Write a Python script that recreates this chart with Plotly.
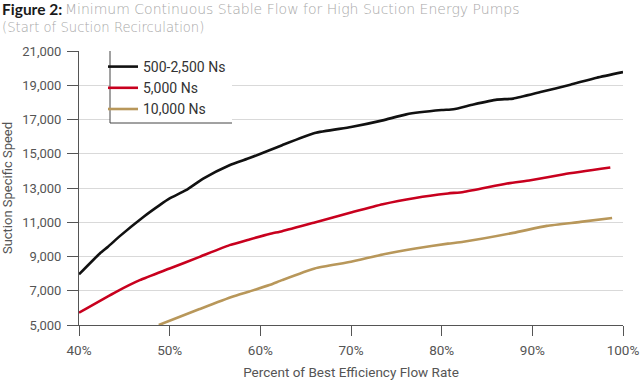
import plotly.graph_objects as go

# ---- data ----
series_names = ["500-2,500 Ns", "5,000 Ns", "10,000 Ns"]

black_x = [40, 42.3, 43.2, 44.5, 47.1, 48.9, 50, 51.8, 53.7, 56.6, 58.8, 61, 62.4, 66,
           70, 73.5, 76.1, 80, 81.3, 83.5, 86.1, 87.9, 90.9, 94.2, 97.1, 100]
black_y = [7960, 9180, 9570, 10190, 11310, 12000, 12390, 12870, 13550, 14330, 14750, 15200,
           15500, 16210, 16560, 16950, 17300, 17550, 17600, 17880, 18160, 18220, 18600,
           19035, 19440, 19770]

red_x = [40, 44.1, 46.7, 50, 53.3, 56.6, 58.8, 61, 62.4, 66, 70, 73.5, 77.1, 80.7, 82.4,
         87.2, 89.8, 93.5, 98.6]
red_y = [5720, 6940, 7620, 8300, 8980, 9665, 10000, 10320, 10480, 10990, 11570, 12055,
         12420, 12680, 12770, 13260, 13455, 13805, 14195]

gold_x = [48.8, 53.3, 56.9, 58.8, 61, 62.4, 66, 70, 73.5, 77.1, 80.7, 82.4, 87.9, 91.6,
          95.3, 98.8]
gold_y = [5000, 5930, 6650, 6960, 7330, 7620, 8300, 8690, 9120, 9470, 9750, 9860, 10380,
          10790, 11020, 11250]

x_ticks = [40, 50, 60, 70, 80, 90, 100]
x_tick_labels = ["40%", "50%", "60%", "70%", "80%", "90%", "100%"]
y_ticks = [5000, 7000, 9000, 11000, 13000, 15000, 17000, 19000, 21000]
y_tick_labels = ["5,000", "7,000", "9,000", "11,000", "13,000", "15,000", "17,000",
                 "19,000", "21,000"]

colors = ["#111111", "#c8001e", "#b8975a"]

# ---- layout geometry (pixels) ----
W, H = 640, 381
L, R, T, B = 79, 17, 51, 56
pw, ph = W - L - R, H - T - B


def px(x):
    return (x - L) / pw


def py(y):
    return (H - B - y) / ph


AX = "Roboto, sans-serif"
TITLE_FONT = "DejaVu Sans, sans-serif"

fig = go.Figure()
for name, xs, ys, c in zip(series_names, [black_x, red_x, gold_x],
                           [black_y, red_y, gold_y], colors):
    fig.add_trace(go.Scatter(x=xs, y=ys, mode="lines", name=name,
                             line=dict(color=c, width=2.6, shape="spline", smoothing=0.5),
                             hoverinfo="skip"))

fig.update_layout(
    width=W, height=H,
    margin=dict(l=L, r=R, t=T, b=B, autoexpand=False),
    paper_bgcolor="white", plot_bgcolor="white",
    showlegend=True,
    legend=dict(x=px(103), y=py(51), xanchor="left", yanchor="top",
                bgcolor="rgba(0,0,0,0)", borderwidth=0,
                font=dict(family=AX, size=14, color="#333333"),
                itemwidth=30, tracegroupgap=0),
    xaxis=dict(range=[40, 100], tickvals=x_ticks, ticktext=x_tick_labels,
               showgrid=False, zeroline=False, automargin=False,
               showline=True, linecolor="#555555", linewidth=1,
               ticks="outside", ticklen=10, tickcolor="#555555",
               ticklabelstandoff=3,
               tickfont=dict(family=AX, size=13.5, color="#555555"),
               title=dict(text="Percent of Best Efficiency Flow Rate",
                          font=dict(family=AX, size=13.5, color="#555555"),
                          standoff=10)),
    yaxis=dict(range=[5000, 21000], tickvals=y_ticks, ticktext=y_tick_labels,
               showgrid=True, gridcolor="#d9d9d9", gridwidth=1, zeroline=False,
               automargin=False,
               showline=True, linecolor="#555555", linewidth=1,
               ticks="outside", ticklen=11, tickcolor="#555555",
               ticklabelstandoff=3,
               tickfont=dict(family=AX, size=13, color="#555555"),
               title=dict(text="Suction Specific Speed",
                          font=dict(family=AX, size=13, color="#555555"),
                          standoff=13)),
    shapes=[
        dict(type="rect", xref="paper", yref="paper",
             x0=px(110), x1=px(232), y0=py(123), y1=py(51.5),
             fillcolor="white", line=dict(width=0), layer="above"),
        dict(type="line", xref="paper", yref="paper",
             x0=px(110), x1=px(110), y0=py(123), y1=py(51),
             line=dict(color="#444444", width=1), layer="above"),
        dict(type="line", xref="paper", yref="paper",
             x0=px(110), x1=px(232), y0=py(123), y1=py(123),
             line=dict(color="#444444", width=1), layer="above"),
    ],
    annotations=[
        dict(xref="paper", yref="paper", x=px(0), y=py(8.5), xanchor="left", yanchor="middle",
             showarrow=False, text="<b>Figure 2:</b>",
             font=dict(family="Lato, sans-serif", size=15.5, color="#1a1a1a")),
        dict(xref="paper", yref="paper", x=px(63), y=py(8.5), xanchor="left", yanchor="middle",
             showarrow=False,
             text="Minimum Continuous Stable Flow for High Suction Energy Pumps",
             font=dict(family=TITLE_FONT, size=14, color="#a8a8a8", weight=300)),
        dict(xref="paper", yref="paper", x=px(0), y=py(27), xanchor="left", yanchor="middle",
             showarrow=False,
             text="(Start of Suction Recirculation)",
             font=dict(family=TITLE_FONT, size=13.2, color="#a8a8a8", weight=300)),
    ],
)

fig.write_html("out.html", config={"displayModeBar": False},
               post_script="document.body.style.margin='0';document.body.style.overflow='hidden';")
